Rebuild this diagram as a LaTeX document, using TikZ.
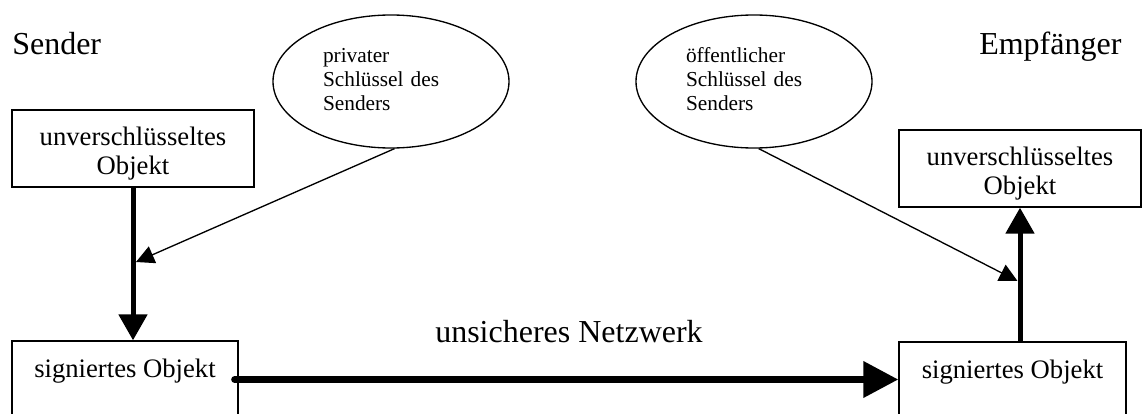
\documentclass[tikz,border=0pt]{standalone}
\usepackage{fontspec}
\setmainfont{Liberation Serif}
\usetikzlibrary{arrows.meta,shapes.geometric}
\begin{document}
\begin{tikzpicture}[x=0.75pt,y=-0.75pt,
  objbox/.style={draw,line width=1pt,rectangle,inner sep=0pt,
    minimum width=181.5pt,minimum height=57.75pt,align=center,
    font=\fontsize{20}{21.75}\selectfont},
  sigbox/.style={draw,line width=1pt,rectangle,inner sep=0pt,
    minimum height=57.75pt,text height=27pt,text depth=30.75pt,
    font=\fontsize{20}{24}\selectfont},
  keyellipse/.style={draw,ellipse,line width=1pt,inner sep=0pt,
    minimum width=177pt,minimum height=99.75pt,text width=102pt,
    align=left,font=\fontsize{16}{18}\selectfont},
  heading/.style={anchor=base west,inner sep=0pt,font=\fontsize{24}{28}\selectfont},
  thickarrow/.style={line width=3.75pt,-{Triangle[length=19.5pt,width=21pt]}},
  netarrow/.style={line width=5.25pt,line cap=round,-{Triangle[length=26.25pt,width=26.25pt]}},
  thinarrow/.style={line width=1pt,-{Triangle[length=13.5pt,width=13.5pt]}},
]
\useasboundingbox (0,0) rectangle (1143,414);
\clip (0,0) rectangle (1143,414);

% headings
\node[heading] (sender) at (12,54) {Sender};
\node[heading] (receiver) at (979,54) {Empfänger};
\node[heading] (net) at (435,342) {unsicheres Netzwerk};

% key ellipses
\node[keyellipse] (privkey) at (391,81.5)
  {\rule{0pt}{13.5pt}privater\\Schlüssel des\\Senders\rule[-6.75pt]{0pt}{6.75pt}};
\node[keyellipse] (pubkey) at (754,81.5)
  {\rule{0pt}{13.5pt}öffentlicher\\Schlüssel des\\Senders\rule[-6.75pt]{0pt}{6.75pt}};

% objects
\node[objbox] (plainA) at (133,148.5)
  {\rule{0pt}{26.25pt}unverschlüsseltes\\Objekt\rule[-9.75pt]{0pt}{9.75pt}};
\node[objbox] (plainB) at (1020,168.5)
  {\rule{0pt}{26.25pt}unverschlüsseltes\\Objekt\rule[-9.75pt]{0pt}{9.75pt}};
\node[sigbox,minimum width=169.5pt] (sigA) at (125,379.5) {signiertes Objekt};
\node[sigbox,minimum width=170.25pt] (sigB) at (1012.5,380.5) {signiertes Objekt};

% points where the keys act on the data flow
\coordinate (signpt) at (136,262);
\coordinate (verifypt) at (1017.5,281);

% data flow
\draw[thickarrow] (plainA.south) -- (plainA.south |- sigA.north);
\draw[netarrow] ([xshift=-3pt]sigA.east) -- (sigB.west |- sigA.east);
\draw[thickarrow] (sigB.north -| plainB.south) -- (plainB.south);

% key usage
\draw[thinarrow] (privkey.-87) -- (signpt);
\draw[thinarrow] (pubkey.-86) -- (verifypt);
\end{tikzpicture}
\end{document}
